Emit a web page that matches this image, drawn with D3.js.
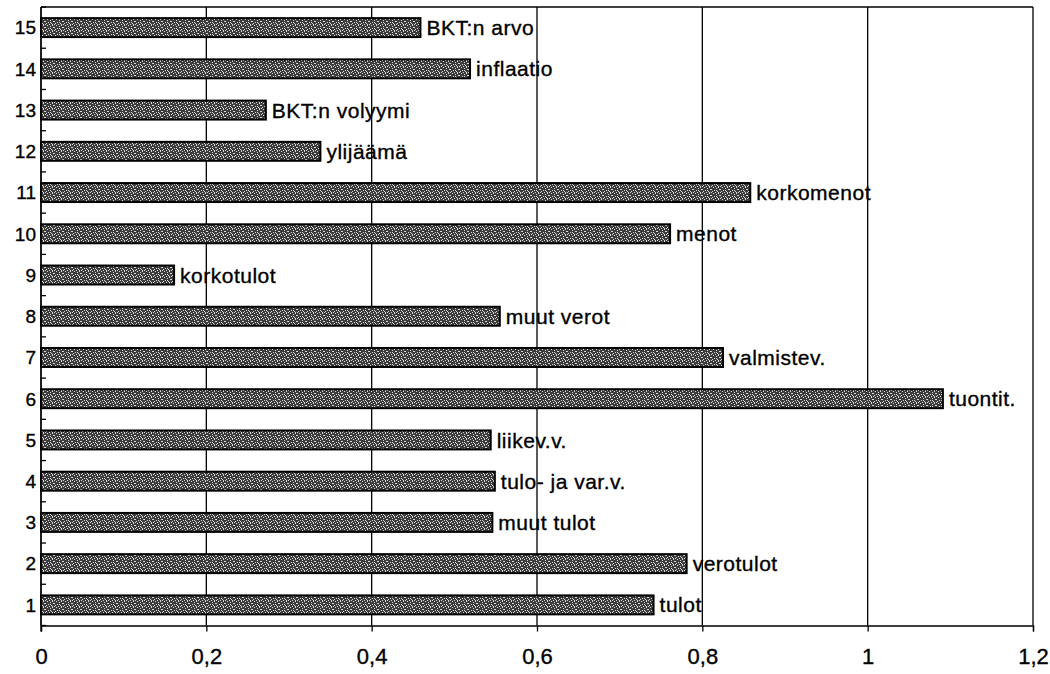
<!DOCTYPE html>
<html>
<head>
<meta charset="utf-8">
<script src="https://cdn.jsdelivr.net/npm/d3@7"></script>
<style>
  body { margin: 0; background: #fff; }
  text { font-family: "Liberation Sans", Arial, sans-serif; fill: #000; stroke: #000; stroke-width: 0.35px; }
</style>
</head>
<body>
<div id="chart"></div>
<script>
// categories, bottom to top
const categories = ["1", "2", "3", "4", "5", "6", "7", "8", "9", "10", "11", "12", "13", "14", "15"];
const barLabels = ["tulot", "verotulot", "muut tulot", "tulo- ja var.v.", "liikev.v.", "tuontit.",
  "valmistev.", "muut verot", "korkotulot", "menot", "korkomenot", "ylijäämä",
  "BKT:n volyymi", "inflaatio", "BKT:n arvo"];
const values = [0.741, 0.781, 0.546, 0.549, 0.544, 1.091, 0.825, 0.555, 0.161, 0.761, 0.858, 0.338, 0.272, 0.519, 0.459];
const xTicks = [0, 0.2, 0.4, 0.6, 0.8, 1, 1.2];

const width = 1050, height = 674;
const plotL = 41, plotR = 1033, plotT = 7, plotB = 625.5;

const svg = d3.select("#chart").append("svg")
  .attr("width", width)
  .attr("height", height);

// stipple texture for the bars
const pat = svg.append("defs").append("pattern")
  .attr("id", "stipple")
  .attr("width", 9).attr("height", 6)
  .attr("patternUnits", "userSpaceOnUse");
pat.append("rect").attr("width", 9).attr("height", 6).attr("fill", "#3c3c3c");
[[0, 0], [4, 0], [7, 1], [2, 1], [5, 2], [0, 3], [8, 3], [3, 4], [6, 5], [1, 5], [5, 4], [7, 0]].forEach(d => {
  pat.append("rect").attr("x", d[0]).attr("y", d[1]).attr("width", 1).attr("height", 1).attr("fill", "#d8d8d8");
});

const x = d3.scaleLinear().domain([0, 1.2]).range([plotL, plotR]);
const y = d3.scaleBand().domain(categories.slice().reverse())
  .range([plotT, plotB])
  .paddingInner(0.54)
  .paddingOuter(0.27);

// vertical gridlines
svg.append("g")
  .selectAll("line")
  .data(xTicks)
  .join("line")
  .attr("x1", d => x(d)).attr("x2", d => x(d))
  .attr("y1", plotT).attr("y2", plotB)
  .attr("stroke", "#000").attr("stroke-width", 1.3);

// top border
svg.append("line")
  .attr("x1", plotL).attr("x2", plotR).attr("y1", plotT).attr("y2", plotT)
  .attr("stroke", "#000").attr("stroke-width", 1.3);

// bars
svg.append("g")
  .selectAll("rect")
  .data(values)
  .join("rect")
  .attr("x", x(0))
  .attr("y", (d, i) => y(categories[i]))
  .attr("width", d => x(d) - x(0))
  .attr("height", y.bandwidth())
  .attr("fill", "url(#stipple)")
  .attr("stroke", "#000")
  .attr("stroke-width", 2);

// bar labels
svg.append("g")
  .selectAll("text")
  .data(values)
  .join("text")
  .attr("x", d => x(d) + 6)
  .attr("y", (d, i) => y(categories[i]) + y.bandwidth() / 2)
  .attr("dy", "0.36em")
  .attr("font-size", 21)
  .attr("letter-spacing", 0.5)
  .text((d, i) => barLabels[i]);

// x axis
const xAxis = svg.append("g")
  .attr("transform", `translate(0,${plotB})`)
  .call(d3.axisBottom(x).tickValues(xTicks).tickSize(6).tickPadding(17)
    .tickFormat(d => String(d).replace(".", ",")));
xAxis.attr("font-size", null).attr("font-family", null);
xAxis.select(".domain").attr("stroke", "#000").attr("stroke-width", 1.3);
xAxis.selectAll(".tick line").attr("stroke", "#000").attr("stroke-width", 1.3);
xAxis.selectAll("text").attr("font-size", 22).attr("fill", "#000");

// y axis: labels, ticks at band boundaries pointing inward
svg.append("line")
  .attr("x1", plotL).attr("x2", plotL).attr("y1", plotT).attr("y2", plotB + 6)
  .attr("stroke", "#000").attr("stroke-width", 1.3);

const step = y.step();
svg.append("g")
  .selectAll("line")
  .data(d3.range(categories.length + 1))
  .join("line")
  .attr("x1", plotL).attr("x2", plotL + 5)
  .attr("y1", i => plotT + i * step).attr("y2", i => plotT + i * step)
  .attr("stroke", "#000").attr("stroke-width", 1.3);

svg.append("g")
  .selectAll("text")
  .data(categories)
  .join("text")
  .attr("x", 36)
  .attr("y", d => y(d) + y.bandwidth() / 2)
  .attr("dy", "0.36em")
  .attr("text-anchor", "end")
  .attr("font-size", 19)
  .text(d => d);
</script>
</body>
</html>
